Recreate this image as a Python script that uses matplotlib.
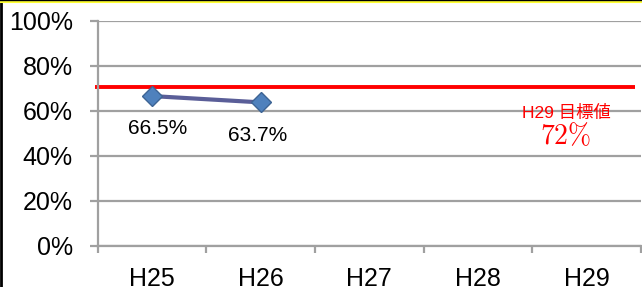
import numpy as np
import matplotlib.pyplot as plt
from matplotlib.lines import Line2D

plt.rcParams['font.family'] = ['Liberation Sans', 'Noto Sans CJK JP', 'DejaVu Sans']

# data
categories = ['H25', 'H26', 'H27', 'H28', 'H29']
rate = [66.5, 63.7]            # measured values (%)
rate_labels = ['66.5%', '63.7%']
target_line = 70.5             # red line as drawn
target_text = 'H29 目標値'
target_value = '72%'
yticks = [0, 20, 40, 60, 80, 100]

grid_col = '#a0a0a0'

fig = plt.figure(figsize=(6.42, 2.87), dpi=100)
ax = fig.add_axes([97.7 / 642, 1 - 245.7 / 287, (641 - 97.7) / 642, 225 / 287])

x = np.arange(len(categories))
ax.set_xlim(-0.5, len(categories) - 0.5)
ax.set_ylim(0, 100)

# gridlines
for v in yticks:
    ax.axhline(v, color=grid_col, lw=1.6, zorder=1)

# series
ax.plot(x[:len(rate)], rate, color='#5a5e98', lw=3, zorder=3,
        marker='D', ms=10, mfc='#4f81bd', mec='#3d6494', mew=1)

# target
ax.plot([-0.525, 4.447], [target_line, target_line], color='#ff0000', lw=2.8,
        clip_on=False, zorder=2, solid_capstyle='butt')

# labels
ax.text(0.05, 52, rate_labels[0], fontsize=15, ha='center', va='center')
ax.text(0.97, 49, rate_labels[1], fontsize=15, ha='center', va='center')
ax.text(3.81, 59, target_text, fontsize=12.5, color='#ff0000', ha='center', va='center')
ax.text(3.81, 48.5, '$' + target_value.replace('%', r'\%') + '$', fontsize=20,
        color='#ff0000', ha='center', va='center', math_fontfamily='cm')

# axes styling
for s in ['top', 'right']:
    ax.spines[s].set_visible(False)
for s in ['left', 'bottom']:
    ax.spines[s].set_color(grid_col)
    ax.spines[s].set_linewidth(1.6)

ax.set_yticks(yticks)
ax.set_yticklabels([f'{v}%' for v in yticks])
ax.tick_params(axis='y', length=6, width=1.6, color=grid_col, pad=12, labelsize=18)

ax.set_xticks(np.arange(-0.5, len(categories)))
ax.set_xticklabels([])
ax.set_xticks(x, minor=True)
ax.set_xticklabels(categories, minor=True)
ax.tick_params(axis='x', which='major', length=5, width=1.6, color=grid_col)
ax.tick_params(axis='x', which='minor', length=0, pad=15, labelsize=18)

# outer frame pieces (cropped border)
fig.add_artist(Line2D([0.5 / 642, 0.5 / 642], [0, 1], transform=fig.transFigure,
                      color='black', lw=2))
fig.add_artist(Line2D([0, 1], [1 - 2 / 287, 1 - 2 / 287], transform=fig.transFigure,
                      color='#ffff33', lw=1.5))
fig.add_artist(Line2D([0, 1], [1 - 0.4 / 287, 1 - 0.4 / 287], transform=fig.transFigure,
                      color='black', lw=1))

fig.savefig('out.png', dpi=100)
